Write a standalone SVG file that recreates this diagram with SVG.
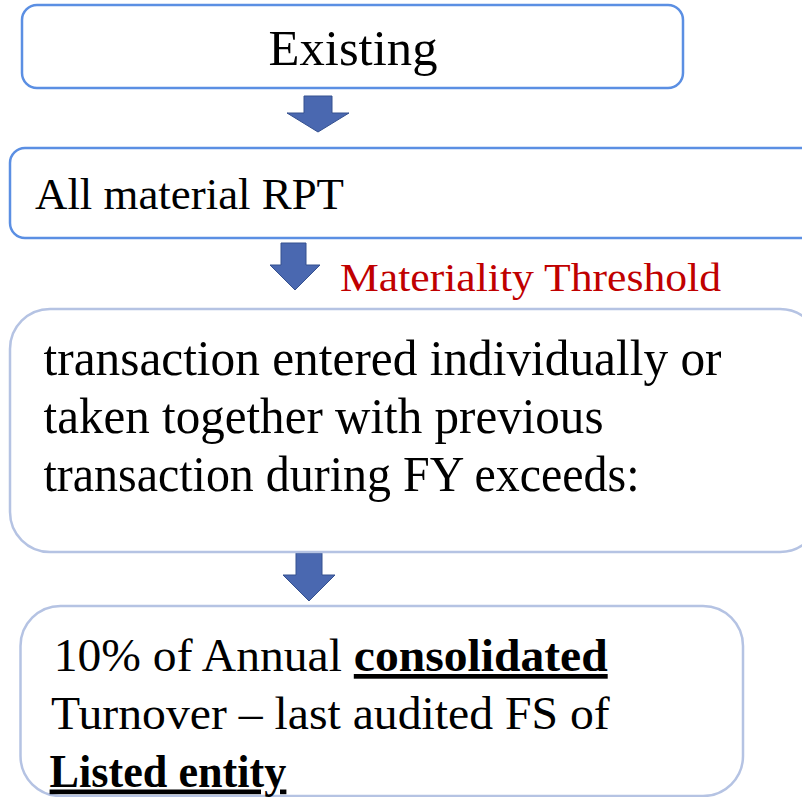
<svg xmlns="http://www.w3.org/2000/svg" width="802" height="797" viewBox="0 0 802 797">
<style>
.t{font-family:"Liberation Serif","Times New Roman",serif;fill:#000}
.b1{fill:#fff;stroke:#5b8fe3;stroke-width:2.5}
.b2{fill:#fff;stroke:#b5c3e3;stroke-width:2.5}
.arr{fill:#4a68b0;stroke:#34508f;stroke-width:1}
.red{fill:#c00000}
.u{text-decoration:underline}
</style>
<rect width="802" height="797" fill="#fff"/>
<g id="connectors">
<polygon class="arr" points="304,96 332,96 332,113 349,113 318,132 287,113 304,113"/>
<polygon class="arr" points="281,243 306,243 306,265 320,265 295,290 270,265 281,265"/>
<polygon class="arr" points="296,553 322,553 322,575 335,575 309,601 283,575 296,575"/>
</g>
<g id="n1">
<rect class="b1" x="22" y="5" width="661" height="83" rx="15"/>
<text class="t" x="268.5" y="65" font-size="50" textLength="169" lengthAdjust="spacingAndGlyphs">Existing</text>
</g>
<g id="n2">
<rect class="b1" x="10" y="148" width="806" height="90" rx="15"/>
<text class="t" x="35" y="209" font-size="44" textLength="309" lengthAdjust="spacingAndGlyphs">All material RPT</text>
</g>
<g id="label">
<text class="t red" x="340" y="290.5" font-size="39" textLength="381" lengthAdjust="spacingAndGlyphs">Materiality Threshold</text>
</g>
<g id="n3">
<rect class="b2" x="10" y="309" width="810" height="243" rx="40"/>
<text class="t" x="43.5" y="375" font-size="50" textLength="678" lengthAdjust="spacingAndGlyphs">transaction entered individually or</text>
<text class="t" x="43.5" y="433" font-size="50" textLength="560" lengthAdjust="spacingAndGlyphs">taken together with previous</text>
<text class="t" x="43.5" y="491" font-size="50" textLength="596" lengthAdjust="spacingAndGlyphs">transaction during FY exceeds:</text>
</g>
<g id="n4">
<rect class="b2" x="20.5" y="606" width="722.5" height="190" rx="40"/>
<text class="t" x="53.7" y="671" font-size="47" textLength="554" lengthAdjust="spacingAndGlyphs">10% of Annual <tspan font-weight="bold" class="u">consolidated</tspan></text>
<text class="t" x="51" y="728.5" font-size="47" textLength="558.7" lengthAdjust="spacingAndGlyphs">Turnover – last audited FS of</text>
<text class="t u" x="49.6" y="786.5" font-size="47" font-weight="bold" textLength="236.8" lengthAdjust="spacingAndGlyphs">Listed entity</text>
</g>
</svg>
